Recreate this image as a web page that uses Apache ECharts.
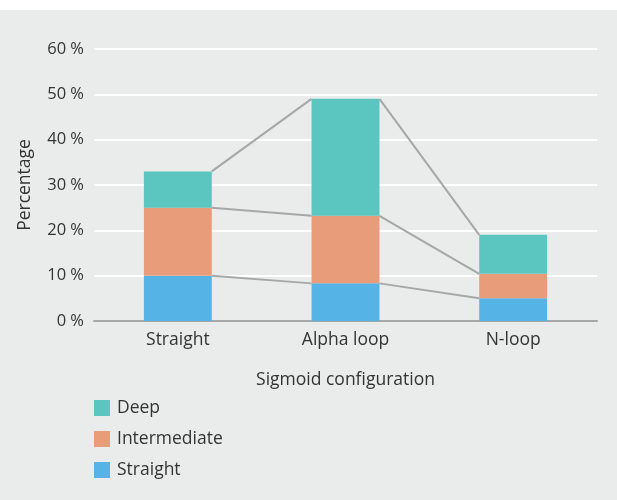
<!DOCTYPE html>
<html>
<head>
<meta charset="utf-8">
<script src="https://cdn.jsdelivr.net/npm/echarts@6/dist/echarts.min.js"></script>
<style>
html,body{margin:0;padding:0;background:#ffffff;}
#chart{width:617px;height:500px;}
</style>
</head>
<body>
<div id="chart"></div>
<script>
var categories = ['Straight', 'Alpha loop', 'N-loop'];
var straightVals = [10, 8.3, 5];
var intermediateVals = [15, 14.9, 5.4];
var deepVals = [8, 25.8, 8.6];
var yTicks = [0, 10, 20, 30, 40, 50, 60];

var FONT = '"Open Sans", "Noto Sans", sans-serif';
var FS = 17.5;
var BAR_RATIO = 0.405;

var cumLevels = [
  straightVals.map(function (v, i) { return v; }),
  straightVals.map(function (v, i) { return v + intermediateVals[i]; }),
  straightVals.map(function (v, i) { return v + intermediateVals[i] + deepVals[i]; })
];

var lineData = [];
cumLevels.forEach(function (lvl, li) {
  for (var i = 0; i < lvl.length - 1; i++) {
    lineData.push([i, lvl[i], lvl[i + 1]]);
  }
});

var chart = echarts.init(document.getElementById('chart'));
chart.setOption({
  backgroundColor: '#eaeceb',
  animation: false,
  textStyle: { fontFamily: FONT },
  graphic: [{
    type: 'rect', left: 0, top: 0, z: -10,
    shape: { width: 617, height: 10 },
    style: { fill: '#ffffff' }
  }],
  grid: { left: 94, right: 20, top: 49, bottom: 179 },
  legend: {
    orient: 'vertical',
    left: 94, top: 399, padding: 0,
    itemWidth: 16, itemHeight: 16, itemGap: 13,
    icon: 'rect',
    data: ['Deep', 'Intermediate', 'Straight'],
    textStyle: { fontSize: FS, color: '#333333', fontFamily: FONT, padding: [0, 0, 0, 2] }
  },
  xAxis: {
    type: 'category',
    data: categories,
    name: 'Sigmoid configuration',
    nameLocation: 'middle',
    nameGap: 50,
    nameTextStyle: { fontSize: FS, color: '#333333', fontFamily: FONT },
    axisLine: { lineStyle: { color: '#a6a7a9', width: 2 } },
    axisTick: { show: false },
    axisLabel: { fontSize: FS, color: '#333333', margin: 10, fontFamily: FONT }
  },
  yAxis: {
    type: 'value',
    min: yTicks[0], max: yTicks[yTicks.length - 1], interval: 10,
    name: 'Percentage',
    nameLocation: 'middle',
    nameGap: 60,
    nameTextStyle: { fontSize: FS, color: '#333333', fontFamily: FONT },
    axisLine: { show: false },
    axisTick: { show: false },
    axisLabel: { fontSize: 16.5, color: '#333333', margin: 10, fontFamily: FONT,
      formatter: function (v) { return v + ' %'; } },
    splitLine: { lineStyle: { color: '#ffffff', width: 2 } }
  },
  series: [
    { name: 'Straight', type: 'bar', stack: 's', data: straightVals,
      barWidth: (BAR_RATIO * 100) + '%', itemStyle: { color: '#55b3e5' } },
    { name: 'Intermediate', type: 'bar', stack: 's', data: intermediateVals,
      barWidth: (BAR_RATIO * 100) + '%', itemStyle: { color: '#e99c7a' } },
    { name: 'Deep', type: 'bar', stack: 's', data: deepVals,
      barWidth: (BAR_RATIO * 100) + '%', itemStyle: { color: '#5bc5bf' } },
    {
      type: 'custom', z: 5, silent: true,
      data: lineData,
      encode: { x: 0, y: 1 },
      renderItem: function (params, api) {
        var i = api.value(0);
        var a = api.coord([i, api.value(1)]);
        var b = api.coord([i + 1, api.value(2)]);
        var bw = api.size([1, 0])[0] * BAR_RATIO;
        return {
          type: 'line',
          shape: { x1: a[0] + bw / 2, y1: a[1], x2: b[0] - bw / 2, y2: b[1] },
          style: { stroke: '#a6a7a9', lineWidth: 2 }
        };
      }
    }
  ]
});
</script>
</body>
</html>
